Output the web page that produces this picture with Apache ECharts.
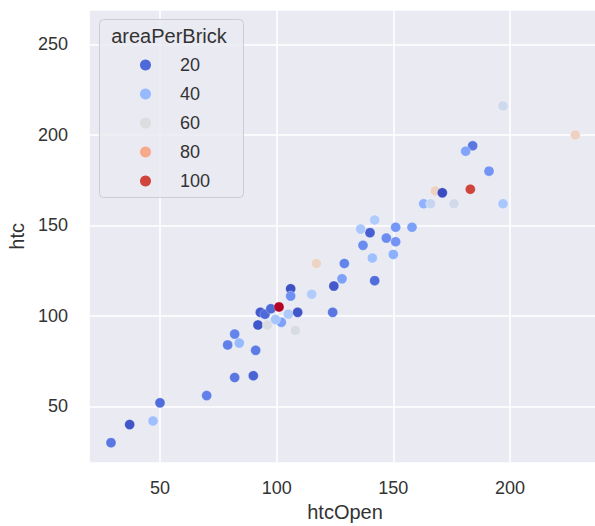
<!DOCTYPE html>
<html>
<head>
<meta charset="utf-8">
<script src="https://cdn.jsdelivr.net/npm/echarts@6/dist/echarts.min.js"></script>
<style>
  html, body { margin: 0; padding: 0; background: #ffffff; }
  #chart { width: 595px; height: 526px; }
</style>
</head>
<body>
<div id="chart"></div>
<script>
// htcOpen vs htc, coloured by areaPerBrick
const htcOpen = [29, 37, 47, 50, 70, 82, 90, 79, 84, 82, 91, 92, 96, 93, 95, 97.5, 101, 102, 99.5, 105,
  106, 106, 109, 108, 115, 117, 129, 128, 124.5, 124, 142, 141, 150, 137, 151, 147, 140, 136, 142, 151,
  158, 163, 166, 168, 171, 176, 183, 197, 184, 181, 191, 197, 228];
const htc = [30, 40, 42, 52, 56, 66, 67, 84, 85, 90, 81, 95, 95, 102, 101, 104, 105, 96.5, 98, 101,
  115, 111, 102, 92, 112, 129, 129, 120.5, 116.5, 102, 119.5, 132, 134, 139, 141, 143, 146, 148, 153, 149,
  149, 162, 162, 169, 168, 162, 170, 162, 194, 191, 180, 216, 200];
const areaPerBrick = [23, 16, 42, 21, 25, 23, 19, 25, 40, 26, 24, 16, 59, 17, 20, 20, 107, 33, 44, 46,
  15, 29, 16, 58, 47, 66, 26, 33, 17, 23, 21, 42, 37, 28, 30, 28, 18, 45, 47, 31,
  33, 38, 53, 67, 14, 56, 100, 45, 23, 34, 30, 55, 67];
const legendValues = [20, 40, 60, 80, 100];

const hueMin = 14, hueMax = 107;

// coolwarm colour ramp
const coolwarm = [
  [59, 76, 192], [77, 104, 215], [98, 130, 234], [119, 154, 247], [141, 176, 254],
  [163, 194, 255], [184, 208, 249], [204, 217, 238], [221, 221, 221], [236, 211, 197],
  [245, 196, 173], [247, 177, 148], [244, 154, 123], [236, 127, 99], [222, 96, 77],
  [203, 62, 56], [180, 4, 38]
];
const toHex = c => '#' + c.map(v => Math.round(v).toString(16).padStart(2, '0')).join('');
const rampColors = coolwarm.map(toHex);
function colorAt(v) {
  const t = Math.min(1, Math.max(0, (v - hueMin) / (hueMax - hueMin))) * (coolwarm.length - 1);
  const i = Math.min(coolwarm.length - 2, Math.floor(t));
  const f = t - i;
  return toHex(coolwarm[i].map((a, k) => a + (coolwarm[i + 1][k] - a) * f));
}

const points = htcOpen.map((x, i) => [x, htc[i], areaPerBrick[i]]);

const FONT = '"Liberation Sans", Arial, sans-serif';
const TEXT = '#333333';
const tickFmt = v => (Math.abs(v % 50) < 1e-6 ? String(v) : '');

const chart = echarts.init(document.getElementById('chart'), null, { renderer: 'svg' });
chart.setOption({
  animation: false,
  backgroundColor: '#ffffff',
  grid: {
    left: 89, top: 10, width: 512, height: 452.7,
    outerBoundsMode: 'none', containLabel: false,
    show: true, backgroundColor: '#EAEAF2', borderWidth: 0
  },
  xAxis: {
    type: 'value', min: 19.57, max: 239,
    name: 'htcOpen', nameLocation: 'middle', nameGap: 39,
    nameTextStyle: { fontFamily: FONT, fontSize: 20, color: TEXT },
    axisLine: { show: false }, axisTick: { show: false },
    axisLabel: { formatter: tickFmt, showMinLabel: false, showMaxLabel: false,
      margin: 16, fontFamily: FONT, fontSize: 18, color: TEXT },
    splitLine: { show: true, lineStyle: { color: '#ffffff', width: 1.6 } }
  },
  yAxis: {
    type: 'value', min: 18.95, max: 269,
    name: 'htc', nameLocation: 'middle', nameGap: 60,
    nameTextStyle: { fontFamily: FONT, fontSize: 20, color: TEXT },
    axisLine: { show: false }, axisTick: { show: false },
    axisLabel: { formatter: tickFmt, showMinLabel: false, showMaxLabel: false,
      margin: 21, fontFamily: FONT, fontSize: 18, color: TEXT },
    splitLine: { show: true, lineStyle: { color: '#ffffff', width: 1.6 } }
  },
  visualMap: {
    show: false, type: 'continuous', seriesIndex: 0, dimension: 2,
    min: hueMin, max: hueMax, inRange: { color: rampColors }
  },
  legend: {
    orient: 'vertical', left: 140, top: 55, padding: 0, z: 20,
    data: legendValues.map(String),
    icon: 'circle', itemWidth: 11, itemHeight: 11, itemGap: 9,
    itemStyle: { opacity: 1, borderWidth: 0 },
    textStyle: { fontFamily: FONT, fontSize: 18, color: TEXT, lineHeight: 20, padding: [0, 0, 0, 24] }
  },
  graphic: [
    {
      type: 'rect', z: 10, silent: true,
      shape: { x: 99.5, y: 19.5, width: 144, height: 178, r: 4 },
      style: { fill: 'rgba(234,234,242,0.85)', stroke: '#CCCCD2', lineWidth: 1 }
    },
    {
      type: 'text', z: 21, silent: true, x: 169, y: 36,
      style: { text: 'areaPerBrick', font: '20px ' + FONT, fill: TEXT,
        textAlign: 'center', textVerticalAlign: 'middle' }
    }
  ],
  series: [
    {
      type: 'scatter', symbol: 'circle', symbolSize: 10,
      itemStyle: { opacity: 1, borderColor: 'rgba(255,255,255,0.45)', borderWidth: 0.6 },
      data: points
    }
  ].concat(legendValues.map(v => ({
    type: 'scatter', name: String(v), data: [],
    itemStyle: { color: colorAt(v), opacity: 1 }
  })))
});
</script>
</body>
</html>
